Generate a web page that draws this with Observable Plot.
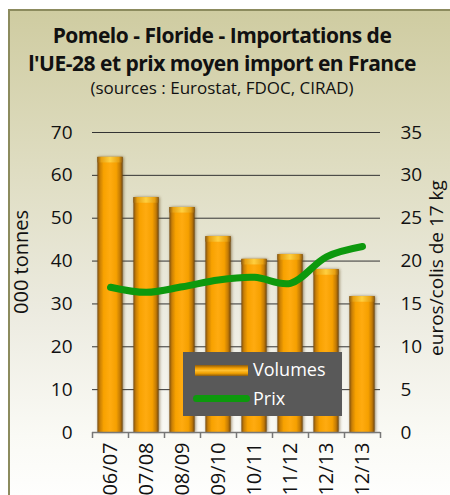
<!DOCTYPE html>
<html><head><meta charset="utf-8">
<script src="https://cdn.jsdelivr.net/npm/d3@7"></script>
<script src="https://cdn.jsdelivr.net/npm/@observablehq/plot@0.6"></script>
<style>
html,body{margin:0;padding:0;background:#fff;}
#wrap{position:relative;width:450px;height:495px;overflow:hidden;font-family:"Open Sans",sans-serif;color:#111;}
#panel{position:absolute;left:8px;top:9px;width:460px;height:500px;border-left:2px solid #8c8b5e;border-top:2px solid #8c8b5e;
  background:linear-gradient(to bottom,#cfcca1 0%,#dedcc0 30%,#ecebe0 60%,#fafaf5 85%,#ffffff 100%);}
#title{position:relative;height:110px;width:444px;text-align:center;}
#t1,#t2{position:absolute;left:0;width:444px;font-weight:700;font-size:21px;letter-spacing:-0.5px;white-space:nowrap;}
#t1{top:21px}#t2{top:49px}
#t3{position:absolute;left:0;width:444px;top:76px;font-size:17px;white-space:nowrap;}
#chart{position:relative;}
#legend{position:absolute;left:183px;top:352px;width:159px;height:64px;background:#595959;color:#fff;font-size:18px;}
#legend .sw{position:absolute;left:12px;top:13px;width:53px;height:11px;background:linear-gradient(to bottom,#8a5a10,#f5a000 30%,#ffc030 50%,#f0a000 75%,#8a5a10);}
#legend .ln{position:absolute;left:10px;top:43px;width:57px;height:7px;border-radius:4px;background:#0d990d;}
#legend .l1{position:absolute;left:70px;top:5px;}
#legend .l2{position:absolute;left:70px;top:34px;}
</style>
</head>
<body>
<div id="wrap">
  <div id="panel"></div>
  <div id="title">
    <div id="t1">Pomelo - Floride - Importations de</div>
    <div id="t2">l'UE-28 et prix moyen import en France</div>
    <div id="t3">(sources : Eurostat, FDOC, CIRAD)</div>
  </div>
  <div id="chart"></div>
  <div id="legend"><div class="sw"></div><div class="l1">Volumes</div><div class="ln"></div><div class="l2">Prix</div></div>
</div>
<script>
const categories = ["06/07","07/08","08/09","09/10","10/11","11/12","12/13","12/13"];
const volumes = [64.2, 54.8, 52.5, 45.7, 40.4, 41.5, 38.0, 31.7];
const prices = [16.95, 16.35, 17.0, 17.8, 18.1, 17.4, 20.5, 21.7];
const leftTicks = [0,10,20,30,40,50,60,70];
const rightTicks = [0,5,10,15,20,25,30,35];
const yLabelLeft = "000 tonnes";
const yLabelRight = "euros/colis de 17 kg";

const data = categories.map((c,i)=>({i, cat:c, vol:volumes[i], price:prices[i]}));
const ratio = 70/35;

const plot = Plot.plot({
  width: 450, height: 385,
  marginLeft: 92, marginRight: 70, marginTop: 22, marginBottom: 63,
  style: {background:"transparent", fontSize:"19px", fontFamily:"'Open Sans',sans-serif", color:"#111", overflow:"visible"},
  x: {type:"linear", domain:[0, categories.length]},
  y: {domain:[0,70]},
  marks: [
    Plot.gridY(leftTicks.slice(1), {stroke:"#333", strokeOpacity:1, strokeWidth:1}),
    Plot.rect(data, {x1: d=>d.i+0.15, x2: d=>d.i+0.85, y1: 0, y2: "vol", fill:"url(#barGrad)", className:"bars"}),
    Plot.rect(data, {x1: d=>d.i+0.15, x2: d=>d.i+0.85, y1: d=>d.vol-1.3, y2: "vol", fill:"url(#capGrad)"}),
    Plot.ruleY([0], {stroke:"#777", strokeWidth:1.5}),
    Plot.axisX({ticks: d3.range(0, categories.length+1), tickFormat: ()=>"", tickSize:6, stroke:"#777", strokeWidth:1.5}),
    Plot.axisX({ticks: d3.range(categories.length).map(i=>i+0.5), tickFormat: v=>categories[Math.floor(v)], tickSize:0, tickPadding:10, tickRotate:-90, fontSize:20, label:null}),
    Plot.axisY({ticks: leftTicks, tickSize:0, tickPadding:20, label:null}),
    Plot.axisY({anchor:"right", ticks: rightTicks.map(v=>v*ratio), tickFormat: v=>v/ratio, tickSize:0, tickPadding:20, label:null}),
    Plot.line(data, {x: d=>d.i+0.5, y: d=>d.price*ratio, curve:"catmull-rom", stroke:"#0d990d", strokeWidth:7, strokeLinecap:"round", strokeLinejoin:"round"})
  ]
});

const svg = d3.select(plot);
const defs = svg.insert("defs", ":first-child");
const g1 = defs.append("linearGradient").attr("id","barGrad").attr("x1","0").attr("x2","1").attr("y1","0").attr("y2","0");
[[0,"#7a4e12"],[0.1,"#c97f05"],[0.25,"#f8a200"],[0.5,"#ffab10"],[0.75,"#f6a000"],[0.9,"#c27a05"],[1,"#6e4610"]].forEach(([o,c])=>g1.append("stop").attr("offset",o).attr("stop-color",c));
const g2 = defs.append("linearGradient").attr("id","capGrad").attr("x1","0").attr("x2","1").attr("y1","0").attr("y2","0");
[[0,"#8a5a12"],[0.15,"#e8a010"],[0.5,"#ffd040"],[0.85,"#e8a010"],[1,"#8a5a12"]].forEach(([o,c])=>g2.append("stop").attr("offset",o).attr("stop-color",c));
svg.selectAll(".bars rect").style("filter","drop-shadow(1px 0px 1.5px rgba(90,60,10,0.6))");

svg.append("text").attr("transform","translate(28,152) rotate(-90)").attr("text-anchor","middle").attr("fill","#111").style("font-size","20px").text(yLabelLeft);
svg.append("text").attr("transform","translate(443,158) rotate(-90)").attr("text-anchor","middle").attr("fill","#111").style("font-size","19px").text(yLabelRight);

document.getElementById("chart").appendChild(plot);
</script>
</body></html>
